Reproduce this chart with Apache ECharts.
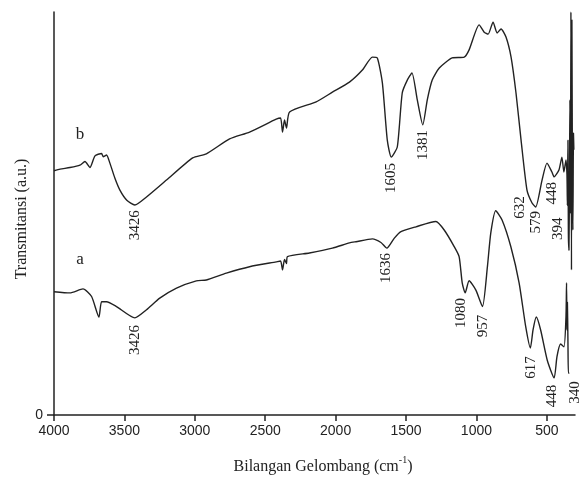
<!DOCTYPE html>
<html>
<head>
<meta charset="utf-8">
<script src="https://cdn.jsdelivr.net/npm/echarts@6/dist/echarts.min.js"></script>
<style>
  html, body { margin: 0; padding: 0; background: #fff; }
  #chart { width: 582px; height: 477px; }
</style>
</head>
<body>
<div id="chart"></div>
<script>
// spektrum b (atas)
const waveB = [4000, 3957, 3887, 3816, 3780, 3745, 3709, 3662, 3651, 3627, 3603, 3568, 3532, 3483, 3426, 3343, 3201, 3015, 2918, 2753, 2611, 2422, 2391, 2377, 2363, 2349, 2327, 2138, 2023, 1902, 1810, 1739, 1704, 1668, 1633, 1605, 1562, 1527, 1491, 1458, 1420, 1381, 1349, 1314, 1264, 1172, 1087, 1052, 981, 945, 917, 882, 853, 825, 790, 754, 719, 683, 641, 605, 579, 534, 499, 464, 448, 414, 393, 379, 364, 357, 354, 350, 347, 343, 339, 336, 332, 329, 325, 322, 318, 315, 311, 308];
const transB = [60.6, 61.0, 61.4, 62.0, 62.9, 61.4, 64.3, 64.9, 64.1, 64.5, 62.5, 58.8, 55.8, 53.3, 52.1, 54.1, 58.3, 63.8, 64.8, 68.5, 70.2, 73.4, 73.7, 70.2, 73.2, 71.2, 75.2, 77.7, 80.1, 82.6, 85.6, 88.8, 88.6, 82.4, 68.2, 64.0, 66.5, 79.9, 83.1, 84.9, 78.2, 72.0, 78.2, 83.1, 86.1, 88.6, 88.8, 90.6, 96.8, 95.0, 94.5, 97.5, 94.8, 95.8, 93.8, 88.8, 79.9, 68.2, 55.8, 52.6, 51.6, 58.3, 62.5, 60.3, 59.1, 60.8, 64.0, 60.3, 63.3, 59.6, 52.0, 68.2, 45.0, 40.9, 60.0, 78.2, 50.0, 100, 36.0, 98.0, 55.0, 45.9, 70.0, 65.8];

// spektrum a (bawah)
const waveA = [4000, 3887, 3794, 3733, 3681, 3662, 3627, 3556, 3426, 3343, 3249, 3130, 2989, 2918, 2776, 2611, 2422, 2391, 2377, 2363, 2349, 2342, 2186, 2023, 1902, 1855, 1739, 1678, 1636, 1583, 1536, 1430, 1288, 1229, 1158, 1123, 1101, 1080, 1052, 1004, 957, 922, 898, 863, 818, 756, 697, 650, 617, 598, 575, 544, 497, 448, 428, 402, 378, 364, 360, 357, 354, 350, 347, 340];
const transA = [30.6, 30.3, 31.3, 29.4, 24.3, 28.1, 28.1, 26.9, 24.1, 26.1, 29.0, 31.5, 33.3, 33.5, 35.2, 36.8, 38.0, 38.2, 36.0, 38.6, 37.6, 39.3, 40.2, 41.4, 42.7, 43.0, 43.7, 42.8, 41.4, 43.9, 45.5, 46.7, 48.0, 45.9, 41.8, 39.3, 32.8, 30.3, 33.3, 31.0, 26.9, 36.8, 45.2, 50.7, 48.4, 41.8, 32.8, 21.9, 16.6, 21.1, 24.3, 21.1, 13.6, 9.2, 14.5, 17.6, 16.9, 24.4, 32.8, 21.1, 28.0, 18.0, 10.4, 10.4];

// label puncak: [bilangan gelombang, posisi, teks]
const peaksB = [[3426, 47.1, "3426"], [1605, 58.8, "1605"], [1381, 67.0, "1381"], [692, 51.5, "632"], [579, 47.8, "579"], [466, 55.0, "448"], [419, 46.2, "394"]];
const peaksA = [[3426, 18.6, "3426"], [1642, 36.5, "1636"], [1106, 25.3, "1080"], [950, 22.1, "957"], [615, 11.8, "617"], [461, 4.7, "448"], [300, 5.6, "340"]];
const seriesTags = [[3816, 69.5, "b"], [3816, 38.5, "a"]];

const xTicks = [500, 1000, 1500, 2000, 2500, 3000, 3500, 4000];

const zip = (xs, ys) => xs.map((x, i) => [x, ys[i]]);

function peakMarks(list, tag) {
  const data = list.map((p) => ({
    coord: [p[0], p[1]],
    name: p[2],
    label: { rotate: 90 },
  }));
  data.push({
    coord: [tag[0], tag[1]],
    name: tag[2],
    label: { rotate: 0, fontSize: 17 },
  });
  return {
    silent: true,
    symbol: "circle",
    symbolSize: 0,
    animation: false,
    label: {
      show: true,
      position: "inside",
      formatter: "{b}",
      color: "#222",
      fontFamily: "Liberation Serif",
      fontSize: 15,
    },
    data,
  };
}

const chart = echarts.init(document.getElementById("chart"));

const option = {
  animation: false,
  grid: { left: 54, right: 7, top: 12, bottom: 62 },
  xAxis: {
    type: "value",
    inverse: true,
    min: 300,
    max: 4000,
    splitLine: { show: false },
    axisLine: { lineStyle: { color: "#222", width: 1.5 } },
    axisTick: { customValues: xTicks, length: 6, lineStyle: { color: "#222", width: 1.5 } },
    axisLabel: {
      customValues: xTicks,
      formatter: (v) => String(v),
      margin: 9,
      color: "#222",
      fontFamily: "Liberation Sans",
      fontSize: 14,
    },
  },
  yAxis: {
    type: "value",
    min: 0,
    max: 100,
    splitLine: { show: false },
    axisLine: { show: true, lineStyle: { color: "#222", width: 1.5 } },
    axisTick: { show: true, customValues: [0], length: 7, lineStyle: { color: "#222", width: 1.5 } },
    axisLabel: {
      customValues: [0],
      formatter: (v) => String(v),
      margin: 11,
      color: "#222",
      fontFamily: "Liberation Sans",
      fontSize: 14,
    },
  },
  graphic: [
    {
      type: "text",
      x: 22,
      y: 219,
      rotation: Math.PI / 2,
      style: {
        text: "Transmitansi (a.u.)",
        fill: "#222",
        font: "16px 'Liberation Serif'",
        textAlign: "center",
        textVerticalAlign: "middle",
      },
    },
    {
      type: "text",
      x: 323,
      y: 465,
      style: {
        text: "{n|Bilangan Gelombang (cm}{s|-1}{n|)}",
        fill: "#222",
        textAlign: "center",
        textVerticalAlign: "middle",
        rich: {
          n: { fontFamily: "Liberation Serif", fontSize: 16, lineHeight: 20, verticalAlign: "bottom" },
          s: { fontFamily: "Liberation Serif", fontSize: 10, lineHeight: 20, verticalAlign: "top" },
        },
      },
    },
  ],
  series: [
    {
      type: "line",
      name: "b",
      data: zip(waveB, transB),
      showSymbol: false,
      clip: false,
      smooth: 0.2,
      lineStyle: { color: "#222", width: 1.4 },
      markPoint: peakMarks(peaksB, seriesTags[0]),
    },
    {
      type: "line",
      name: "a",
      data: zip(waveA, transA),
      showSymbol: false,
      clip: false,
      smooth: 0.2,
      lineStyle: { color: "#222", width: 1.4 },
      markPoint: peakMarks(peaksA, seriesTags[1]),
    },
  ],
};

chart.setOption(option);
</script>
</body>
</html>
